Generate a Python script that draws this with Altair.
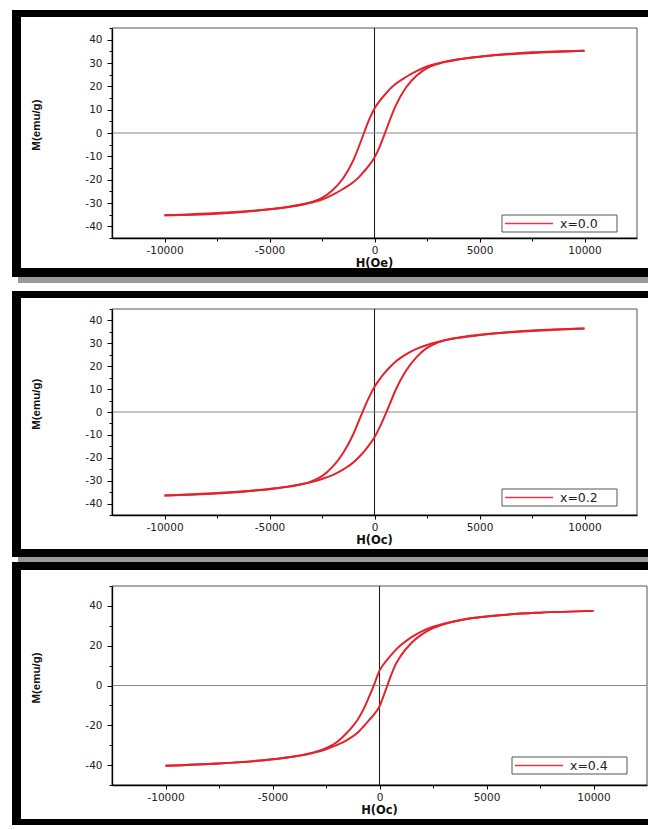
import altair as alt
import pandas as pd

# Field sweep (Oe): descending branch from +10 kOe, ascending branch from -10 kOe
H_DOWN = [10000, 7500, 5000, 4000, 3000, 2500, 2000, 1500, 1000, 750, 500, 250, 0,
          -250, -500, -750, -1000, -1500, -2000, -2500, -3000, -4000, -5000, -7500, -10000]
H_UP = [-10000, -7500, -5000, -4000, -3000, -2500, -2000, -1500, -1000, -750, -500, -250, 0,
        250, 500, 750, 1000, 1500, 2000, 2500, 3000, 4000, 5000, 7500, 10000]

# Magnetisation (emu/g), sample x = 0.0
M_DOWN_00 = [35.3, 34.6, 32.7, 31.6, 29.8, 28.5, 26.5, 24.0, 21.0, 19.0, 16.5, 13.8, 10.5,
             5.8, 0.0, -6.0, -11.5, -19.5, -24.5, -27.8, -29.6, -31.5, -32.7, -34.3, -35.3]
M_UP_00 = [-35.3, -34.6, -32.7, -31.6, -29.8, -28.5, -26.5, -24.0, -21.0, -19.0, -16.5, -13.8, -10.5,
           -5.8, 0.0, 6.0, 11.5, 19.5, 24.5, 27.8, 29.6, 31.5, 32.7, 34.3, 35.3]

# Magnetisation (emu/g), sample x = 0.2
M_DOWN_02 = [36.5, 35.6, 33.6, 32.4, 30.6, 29.3, 27.6, 25.2, 22.0, 19.8, 17.3, 14.4, 11.0,
             6.6, 1.5, -4.0, -9.5, -18.0, -24.0, -28.0, -30.3, -32.5, -33.7, -35.4, -36.5]
M_UP_02 = [-36.5, -35.6, -33.6, -32.4, -30.6, -29.3, -27.6, -25.2, -22.0, -19.8, -17.3, -14.4, -11.0,
           -6.6, -1.5, 4.0, 9.5, 18.0, 24.0, 28.0, 30.3, 32.5, 33.7, 35.4, 36.5]

# Magnetisation (emu/g), sample x = 0.4
M_DOWN_04 = [37.5, 36.6, 34.7, 33.3, 31.0, 29.5, 27.3, 24.3, 20.3, 17.8, 14.8, 11.5, 7.5,
             0.5, -6.0, -12.0, -16.8, -23.5, -28.5, -31.5, -33.4, -35.7, -37.1, -39.2, -40.3]
M_UP_04 = [-40.3, -39.2, -37.1, -35.7, -33.6, -32.0, -30.0, -27.3, -23.5, -20.6, -17.5, -14.5, -10.5,
           -3.5, 4.0, 10.5, 15.0, 21.5, 25.8, 28.8, 30.8, 33.3, 34.7, 36.6, 37.5]

SAMPLES = ["x=0.0", "x=0.2", "x=0.4"]
X_TITLES = ["H(Oe)", "H(Oc)", "H(Oc)"]
Y_TITLE = "M(emu/g)"

RED = "#e3222d"
LABEL_FONT = "DejaVu Sans"


def panel(m_down, m_up, sample, xtitle, width, height, ydom, ystep, ymajor,
          frame_top, frame_bottom, inner_top, inner_bottom, gray_strip, legend_y, title_dy):
    df = pd.DataFrame({
        "H": H_DOWN + H_UP,
        "M": m_down + m_up,
        "branch": ["down"] * len(H_DOWN) + ["up"] * len(H_UP),
    })
    one = pd.DataFrame({"sample": [sample], "xtitle": [xtitle]})
    zero = pd.DataFrame({"H": [0], "M": [0]})

    xs = alt.Scale(domain=[-12500, 12500], nice=False, zero=False)
    ys = alt.Scale(domain=ydom, nice=False, zero=False)

    xaxis = alt.Axis(
        values=list(range(-10000, 10001, 2500)),
        labelExpr="datum.value % 5000 === 0 ? '' + datum.value : ''",
        tickSize={"condition": {"test": "datum.value % 5000 === 0", "value": 4}, "value": 3},
        title=None, grid=False, zindex=1, labelOverlap=False,
        domainColor="black", domainWidth=1.3, tickColor="black", tickWidth=1,
        labelFont=LABEL_FONT, labelFontSize=10.5, labelColor="#222", labelPadding=3,
    )
    first = ydom[0] if ydom[0] % ystep == 0 else ydom[0] + (ystep - ydom[0] % ystep)
    yvals = list(range(int(first), int(ydom[1]) + 1, ystep))
    yaxis = alt.Axis(
        values=yvals,
        labelExpr=f"datum.value % {ymajor} === 0 ? '' + datum.value : ''",
        tickSize={"condition": {"test": f"datum.value % {ymajor} === 0", "value": 5}, "value": 3},
        title=Y_TITLE, titleFont="Liberation Sans", titleFontSize=11.5, titleFontWeight="bold",
        titleColor="#111", titleX=-76, titleY=height * 0.46, titleAlign="center",
        titleBaseline="middle", titleAngle=270,
        grid=False, zindex=1, labelOverlap=False,
        domainColor="black", domainWidth=1.3, tickColor="black", tickWidth=1,
        labelFont=LABEL_FONT, labelFontSize=10.5, labelColor="#222", labelPadding=5,
    )

    frame_right = 536
    layers = []
    # black frame around the panel
    layers.append(alt.Chart(one).mark_rect(color="black").encode(
        x=alt.value(-100), x2=alt.value(frame_right),
        y=alt.value(frame_top), y2=alt.value(frame_bottom)))
    if gray_strip:
        layers.append(alt.Chart(one).mark_rect(color="#9a9a9a").encode(
            x=alt.value(-94), x2=alt.value(frame_right),
            y=alt.value(frame_bottom), y2=alt.value(frame_bottom + 6)))
    # white card inside the frame
    layers.append(alt.Chart(one).mark_rect(color="white").encode(
        x=alt.value(-91), x2=alt.value(frame_right),
        y=alt.value(inner_top), y2=alt.value(inner_bottom)))
    # plot box
    layers.append(alt.Chart(one).mark_rect(filled=False, stroke="#555", strokeWidth=1).encode(
        x=alt.value(0), x2=alt.value(width), y=alt.value(0), y2=alt.value(height)))
    # zero lines
    layers.append(alt.Chart(zero).mark_rule(color="#222", strokeWidth=1.1).encode(
        x=alt.X("H:Q", scale=xs, axis=xaxis)))
    layers.append(alt.Chart(zero).mark_rule(color="#888", strokeWidth=1).encode(
        y=alt.Y("M:Q", scale=ys, axis=yaxis)))
    # hysteresis loop
    layers.append(alt.Chart(df).mark_line(color=RED, strokeWidth=2, interpolate="monotone").encode(
        x=alt.X("H:Q", scale=xs, axis=xaxis),
        y=alt.Y("M:Q", scale=ys, axis=yaxis),
        detail="branch:N"))
    # legend box
    lx = width - 135
    layers.append(alt.Chart(one).mark_rect(fill="white", stroke="#555", strokeWidth=1).encode(
        x=alt.value(lx), x2=alt.value(lx + 115),
        y=alt.value(legend_y), y2=alt.value(legend_y + 17)))
    layers.append(alt.Chart(one).mark_rule(color="#e43a48", strokeWidth=1.6).encode(
        x=alt.value(lx + 3), x2=alt.value(lx + 51), y=alt.value(legend_y + 8.5)))
    layers.append(alt.Chart(one).mark_text(
        align="left", baseline="middle", font=LABEL_FONT, fontSize=12.5, color="#222").encode(
        x=alt.value(lx + 58), y=alt.value(legend_y + 9), text="sample:N"))
    # x-axis title
    layers.append(alt.Chart(one).mark_text(
        align="center", baseline="middle", font=LABEL_FONT, fontSize=11.5,
        fontWeight="bold", color="#111").encode(
        x=alt.value(width / 2), y=alt.value(height + title_dy), text="xtitle:N"))

    return alt.layer(*layers).properties(width=width, height=height)


p1 = panel(M_DOWN_00, M_UP_00, SAMPLES[0], X_TITLES[0], 525, 210, [-45, 45], 5, 10,
           -18, 249, -11, 240, True, 187, 26)
p2 = panel(M_DOWN_02, M_UP_02, SAMPLES[1], X_TITLES[1], 525, 206, [-45, 45], 5, 10,
           -18, 248, -11, 240, True, 180, 26)
p3 = panel(M_DOWN_04, M_UP_04, SAMPLES[2], X_TITLES[2], 535, 199, [-50, 50], 10, 20,
           -24, 239, -16, 233, False, 171, 26)

chart = alt.vconcat(p1, p2, p3, spacing=71, bounds="flush").resolve_scale(
    x="independent", y="independent"
).properties(
    padding={"left": 12, "top": 10, "right": 0, "bottom": 0},
    background="white",
).configure_view(stroke=None)

chart.save("out.html", embed_options={"renderer": "svg", "actions": False})
